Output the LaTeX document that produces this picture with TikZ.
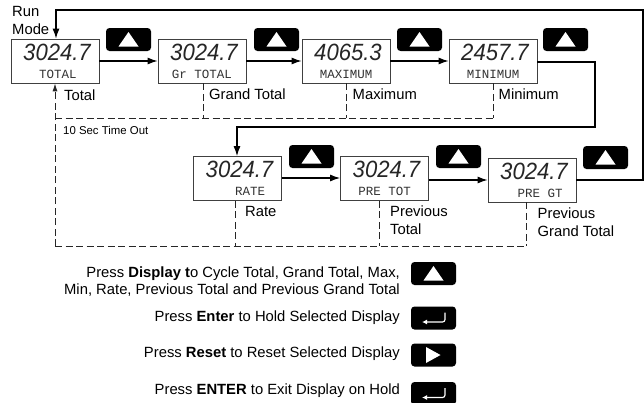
\documentclass[tikz,border=0pt]{standalone}
\usepackage{fontspec}
\setmainfont{Liberation Sans}
\newfontfamily\segmono{Liberation Mono}
\usetikzlibrary{arrows.meta}
\tikzset{
  x=1pt,y=-1pt,
  lbl/.style={inner sep=0pt,anchor=base west,font=\fontsize{14.8}{16}\selectfont,align=left},
  legend/.style={inner sep=0pt,anchor=base east,font=\fontsize{14.8}{16}\selectfont,align=right},
  dispbox/.style={draw=black!75,line width=0.7pt,minimum width=88pt,minimum height=44pt,inner sep=0pt,fill=white},
  flow/.style={line width=1.3pt,-{Latex[length=10pt,width=7pt]}},
  tmo/.style={dash pattern=on 7pt off 3.5pt,line width=0.9pt,black!85},
  key/.style={fill=black,rounded corners=3.5pt,minimum width=45pt,minimum height=23pt,inner sep=0pt},
  tri/.style={fill=white,draw=none},
  digits/.style={inner sep=0pt,font=\fontsize{23.5}{24}\selectfont\itshape,text=black!85},
  sub/.style={inner sep=0pt,font=\segmono\fontsize{12.5}{13}\selectfont,text=black!80}
}
\newcommand{\readout}[6]{%
  \node[dispbox] (#1) at (#2,#3) {};
  \node[digits,xscale=0.94] (#1d) at (#2+2,#3-9) {#4};
  \node[sub] (#1s) at (#2+#6,#3+13) {#5};
}
\newcommand{\upkey}[3]{%
  \node[key] (#1) at (#2,#3) {};
  \fill[tri] (#2-10,#3+7) -- (#2+10,#3+7) -- (#2,#3-7.5) -- cycle;
}
\newcommand{\enterkey}[3]{%
  \node[key] (#1) at (#2,#3) {};
  \draw[white,line width=1.2pt,rounded corners=2.5pt,-{Latex[length=5pt,width=5pt]}] (#2+11.5,#3-5.5) -- (#2+11.5,#3+4) -- (#2-11.5,#3+4);
}
\begin{document}
\begin{tikzpicture}
\useasboundingbox (0,0) rectangle (644,402);
% top-row displays
\readout{total}{55}{61}{3024.7}{TOTAL}{3}
\readout{gtotal}{202}{61}{3024.7}{Gr TOTAL}{0}
\readout{maxv}{346}{61}{4065.3}{MAXIMUM}{0}
\readout{minv}{493}{61}{2457.7}{MINIMUM}{0}
% bottom-row displays
\readout{rate}{237.5}{178.5}{3024.7}{RATE}{12.5}
\readout{ptot}{384.5}{178.5}{3024.7}{PRE TOT}{0}
\readout{pgt}{532}{180}{3024.7}{PRE  GT}{8}
% keys
\upkey{k1}{128.5}{39.5}
\upkey{k2}{276.5}{39.5}
\upkey{k3}{419.5}{39.5}
\upkey{k4}{565.5}{39.5}
\upkey{k5}{311.5}{156.5}
\upkey{k6}{458.5}{156.5}
\upkey{k7}{605.5}{157.5}
% solid flow
\draw[flow] (total.east |- 0,61) -- (gtotal.west |- 0,61);
\draw[flow] (gtotal.east |- 0,61) -- (maxv.west |- 0,61);
\draw[flow] (maxv.east |- 0,61) -- (minv.west |- 0,61);
\draw[flow] (rate.east |- 0,178) -- (ptot.west |- 0,178);
\draw[flow] (ptot.east |- 0,180) -- (pgt.west |- 0,180);
\draw[flow] (minv.east |- 0,62) -- (595,62) -- (595,127) -- (237,127) -- (rate.north -| 237,0);
\draw[flow] (pgt.east) -- (643,180) -- (643,10) -- (56,10) -- (total.north -| 56,0);
% timeout dashed
\coordinate (tl) at (55,246);
\draw[tmo,-{Latex[length=8pt,width=5pt]}] (tl) -- (total.south -| tl);
\draw[tmo] (tl) -- (526,246);
\draw[tmo] (rate.south -| 235,0) -- (235,246);
\draw[tmo] (ptot.south -| 379,0) -- (379,246);
\draw[tmo] (pgt.south -| 526,0) -- (526,246);
\draw[tmo] (55,118) -- (493,118);
\draw[tmo] (gtotal.south -| 203,0) -- (203,118);
\draw[tmo] (maxv.south -| 346,0) -- (346,118);
\draw[tmo] (minv.south -| 493,0) -- (493,118);
% labels
\node[lbl] (runmode) at (12,16) {Run};
\node[lbl] (runmode2) at (12,34) {Mode};
\node[lbl] (ltotal) at (64,100) {Total};
\node[lbl] (lgt) at (209,99.5) {Grand Total};
\node[lbl] (lmax) at (352.5,99.5) {Maximum};
\node[lbl] (lmin) at (498.5,99.5) {Minimum};
\node[lbl,font=\fontsize{11.4}{12}\selectfont] (lto) at (63,134) {10 Sec Time Out};
\node[lbl] (lrate) at (245,216.5) {Rate};
\node[lbl] (lpt) at (390,216.5) {Previous};
\node[lbl] (lpt2) at (390,234) {Total};
\node[lbl] (lpg) at (537.5,218) {Previous};
\node[lbl] (lpg2) at (537.5,236) {Grand Total};
% legend
\node[legend] (a1) at (400,277) {Press \textbf{Display t}o Cycle Total, Grand Total, Max,};
\node[legend] (a2) at (400,294) {Min, Rate, Previous Total and Previous Grand Total};
\node[legend] (a3) at (400,321) {Press \textbf{Enter} to Hold Selected Display};
\node[legend] (a4) at (400,357) {Press \textbf{Reset} to Reset Selected Display};
\node[legend] (a5) at (400,394) {Press \textbf{ENTER} to Exit Display on Hold};
\upkey{b1}{433.5}{273.5}
\enterkey{b2}{433.5}{318}
\node[key] (b3) at (433.5,355) {};
\fill[tri] (426,347) -- (426,363) -- (440.5,355) -- cycle;
\enterkey{b4}{433.5}{393.5}
\end{tikzpicture}
\end{document}
